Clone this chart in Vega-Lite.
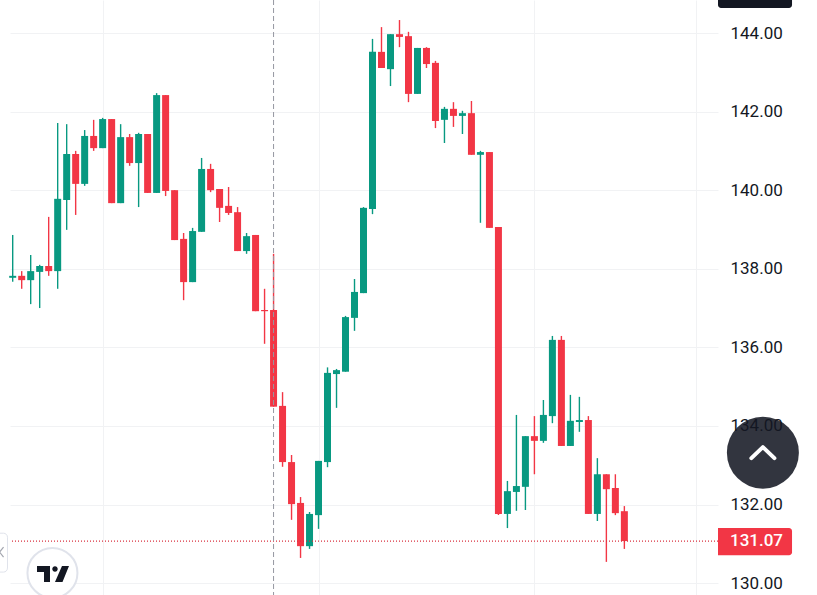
{
  "$schema": "https://vega.github.io/schema/vega-lite/v6.json",
  "width": 708,
  "height": 595,
  "autosize": "none",
  "padding": {"left": 10, "top": 0, "right": 99, "bottom": 0},
  "background": "#ffffff",
  "config": {"view": {"stroke": null}, "font": "Roboto"},
  "data": {"values": [
    {"t":0,"open":137.77,"high":138.86,"low":137.67,"close":137.82,"dir":"up"},
    {"t":1,"open":137.82,"high":137.94,"low":137.49,"close":137.71,"dir":"down"},
    {"t":2,"open":137.71,"high":138.35,"low":137.10,"close":137.94,"dir":"up"},
    {"t":3,"open":137.92,"high":138.10,"low":137.00,"close":138.07,"dir":"up"},
    {"t":4,"open":138.07,"high":139.32,"low":137.82,"close":137.94,"dir":"down"},
    {"t":5,"open":137.94,"high":141.71,"low":137.49,"close":139.78,"dir":"up"},
    {"t":6,"open":139.75,"high":141.68,"low":138.99,"close":140.92,"dir":"up"},
    {"t":7,"open":140.92,"high":141.00,"low":139.37,"close":140.16,"dir":"down"},
    {"t":8,"open":140.16,"high":141.53,"low":140.11,"close":141.38,"dir":"up"},
    {"t":9,"open":141.38,"high":141.79,"low":141.00,"close":141.07,"dir":"down"},
    {"t":10,"open":141.07,"high":141.84,"low":141.07,"close":141.81,"dir":"up"},
    {"t":11,"open":141.81,"high":141.81,"low":139.67,"close":139.67,"dir":"down"},
    {"t":12,"open":139.67,"high":141.68,"low":139.67,"close":141.35,"dir":"up"},
    {"t":13,"open":141.35,"high":141.43,"low":140.62,"close":140.69,"dir":"down"},
    {"t":14,"open":140.69,"high":141.46,"low":139.57,"close":141.43,"dir":"up"},
    {"t":15,"open":141.43,"high":141.43,"low":139.93,"close":139.93,"dir":"down"},
    {"t":16,"open":139.93,"high":142.47,"low":139.93,"close":142.42,"dir":"up"},
    {"t":17,"open":142.42,"high":142.42,"low":139.85,"close":139.98,"dir":"down"},
    {"t":18,"open":140.00,"high":140.00,"low":138.73,"close":138.73,"dir":"down"},
    {"t":19,"open":138.76,"high":138.91,"low":137.20,"close":137.66,"dir":"down"},
    {"t":20,"open":137.66,"high":139.04,"low":137.66,"close":138.96,"dir":"up"},
    {"t":21,"open":138.94,"high":140.82,"low":138.94,"close":140.54,"dir":"up"},
    {"t":22,"open":140.54,"high":140.67,"low":139.95,"close":140.00,"dir":"down"},
    {"t":23,"open":140.03,"high":140.03,"low":139.19,"close":139.55,"dir":"down"},
    {"t":24,"open":139.60,"high":140.08,"low":139.37,"close":139.42,"dir":"down"},
    {"t":25,"open":139.44,"high":139.57,"low":138.45,"close":138.45,"dir":"down"},
    {"t":26,"open":138.45,"high":138.91,"low":138.38,"close":138.83,"dir":"up"},
    {"t":27,"open":138.86,"high":138.86,"low":136.92,"close":136.92,"dir":"down"},
    {"t":28,"open":136.95,"high":137.49,"low":136.09,"close":136.92,"dir":"down"},
    {"t":29,"open":136.95,"high":138.38,"low":134.49,"close":134.49,"dir":"down"},
    {"t":30,"open":134.51,"high":134.86,"low":132.96,"close":133.08,"dir":"down"},
    {"t":31,"open":133.08,"high":133.26,"low":131.61,"close":132.01,"dir":"down"},
    {"t":32,"open":132.04,"high":132.19,"low":130.64,"close":130.94,"dir":"down"},
    {"t":33,"open":130.94,"high":131.81,"low":130.87,"close":131.76,"dir":"up"},
    {"t":34,"open":131.73,"high":133.11,"low":131.38,"close":133.11,"dir":"up"},
    {"t":35,"open":133.08,"high":135.49,"low":132.95,"close":135.35,"dir":"up"},
    {"t":36,"open":135.32,"high":135.45,"low":134.46,"close":135.42,"dir":"up"},
    {"t":37,"open":135.38,"high":136.80,"low":135.38,"close":136.77,"dir":"up"},
    {"t":38,"open":136.75,"high":137.74,"low":136.42,"close":137.41,"dir":"up"},
    {"t":39,"open":137.38,"high":139.57,"low":137.38,"close":139.55,"dir":"up"},
    {"t":40,"open":139.52,"high":143.85,"low":139.39,"close":143.52,"dir":"up"},
    {"t":41,"open":143.52,"high":144.15,"low":143.11,"close":143.11,"dir":"down"},
    {"t":42,"open":143.08,"high":143.97,"low":142.65,"close":143.97,"dir":"up"},
    {"t":43,"open":143.97,"high":144.33,"low":143.64,"close":143.90,"dir":"down"},
    {"t":44,"open":143.92,"high":144.03,"low":142.24,"close":142.45,"dir":"down"},
    {"t":45,"open":142.45,"high":143.62,"low":142.45,"close":143.62,"dir":"up"},
    {"t":46,"open":143.62,"high":143.64,"low":143.11,"close":143.21,"dir":"down"},
    {"t":47,"open":143.24,"high":143.29,"low":141.58,"close":141.76,"dir":"down"},
    {"t":48,"open":141.79,"high":142.12,"low":141.20,"close":142.07,"dir":"up"},
    {"t":49,"open":142.07,"high":142.24,"low":141.61,"close":141.89,"dir":"down"},
    {"t":50,"open":141.89,"high":142.02,"low":141.43,"close":141.96,"dir":"up"},
    {"t":51,"open":141.96,"high":142.27,"low":140.90,"close":140.90,"dir":"down"},
    {"t":52,"open":140.90,"high":141.00,"low":139.17,"close":140.97,"dir":"up"},
    {"t":53,"open":140.97,"high":140.97,"low":139.04,"close":139.04,"dir":"down"},
    {"t":54,"open":139.06,"high":139.06,"low":131.73,"close":131.76,"dir":"down"},
    {"t":55,"open":131.76,"high":132.60,"low":131.40,"close":132.34,"dir":"up"},
    {"t":56,"open":132.32,"high":134.28,"low":131.84,"close":132.47,"dir":"up"},
    {"t":57,"open":132.45,"high":133.74,"low":131.86,"close":133.74,"dir":"up"},
    {"t":58,"open":133.74,"high":134.25,"low":132.77,"close":133.62,"dir":"down"},
    {"t":59,"open":133.62,"high":134.66,"low":133.57,"close":134.28,"dir":"up"},
    {"t":60,"open":134.25,"high":136.29,"low":134.07,"close":136.19,"dir":"up"},
    {"t":61,"open":136.19,"high":136.29,"low":133.49,"close":133.49,"dir":"down"},
    {"t":62,"open":133.49,"high":134.79,"low":133.49,"close":134.13,"dir":"up"},
    {"t":63,"open":134.10,"high":134.74,"low":133.85,"close":134.15,"dir":"up"},
    {"t":64,"open":134.15,"high":134.25,"low":131.76,"close":131.76,"dir":"down"},
    {"t":65,"open":131.76,"high":133.18,"low":131.58,"close":132.77,"dir":"up"},
    {"t":66,"open":132.77,"high":132.77,"low":130.54,"close":132.39,"dir":"down"},
    {"t":67,"open":132.42,"high":132.77,"low":131.73,"close":131.78,"dir":"down"},
    {"t":68,"open":131.83,"high":131.96,"low":130.87,"close":131.07,"dir":"down"}
  ]},
  "encoding": {
    "x": {
      "field": "t",
      "type": "quantitative",
      "scale": {"domain": [-0.3, 78.41], "nice": false, "zero": false, "padding": 0},
      "axis": {
        "title": null,
        "labels": false,
        "ticks": false,
        "domain": false,
        "grid": true,
        "gridColor": "#f1f2f4",
        "values": [10, 34, 58, 76]
      }
    },
    "y": {
      "field": "low",
      "type": "quantitative",
      "scale": {"domain": [129.697, 144.84], "nice": false, "zero": false},
      "axis": {
        "title": null,
        "orient": "right",
        "domain": false,
        "ticks": false,
        "grid": true,
        "gridColor": "#f1f2f4",
        "values": [130, 132, 134, 136, 138, 140, 142, 144],
        "format": ".2f",
        "labelFont": "Roboto",
        "labelFontSize": 17,
        "labelColor": "#131722",
        "labelAlign": "left",
        "labelPadding": 12
      }
    }
  },
  "layer": [
    {
      "mark": {"type": "rule", "strokeWidth": 1.4},
      "encoding": {
        "y2": {"field": "high"},
        "color": {
          "field": "dir",
          "type": "nominal",
          "scale": {"domain": ["up", "down"], "range": ["#089981", "#f23645"]},
          "legend": null
        }
      }
    },
    {
      "mark": {"type": "bar", "width": 7, "orient": "vertical"},
      "encoding": {
        "y": {"field": "open", "type": "quantitative"},
        "y2": {"field": "close"},
        "color": {"field": "dir", "type": "nominal", "legend": null}
      }
    },
    {
      "data": {"values": [{"low": 131.07}]},
      "mark": {"type": "rule", "color": "#d9303f", "strokeWidth": 1.2, "strokeDash": [1, 2]},
      "encoding": {"x": null}
    },
    {
      "data": {"values": [{"t": 29}]},
      "mark": {"type": "rule", "color": "#9598a1", "strokeWidth": 1, "strokeDash": [5, 3]},
      "encoding": {"y": null}
    },
    {
      "data": {"values": [{"t": 78.41, "t2": 86.64, "low": 131.4, "high": 130.71}]},
      "mark": {"type": "rect", "clip": false, "color": "#f23645", "cornerRadiusTopRight": 3, "cornerRadiusBottomRight": 3},
      "encoding": {"x2": {"field": "t2"}, "y2": {"field": "high"}}
    },
    {
      "data": {"values": [{"t": 79.74, "low": 131.07, "label": "131.07"}]},
      "mark": {"type": "text", "clip": false, "color": "#ffffff", "font": "Roboto", "fontSize": 17, "align": "left", "baseline": "middle", "fontWeight": 500},
      "encoding": {"text": {"field": "label"}}
    },
    {
      "data": {"values": [{"t": 78.41, "t2": 86.64, "low": 144.636, "high": 145.1}]},
      "mark": {"type": "rect", "clip": false, "color": "#131722", "cornerRadiusBottomRight": 3, "cornerRadiusBottomLeft": 3},
      "encoding": {"x2": {"field": "t2"}, "y2": {"field": "high"}}
    },
    {
      "data": {"values": [{"t": 83.4, "low": 133.32}]},
      "mark": {"type": "point", "clip": false, "shape": "circle", "filled": true, "size": 5184, "color": "#131722", "opacity": 0.87}
    },
    {
      "data": {"values": [{"t": 83.4, "low": 133.32}]},
      "mark": {"type": "point", "clip": false, "shape": "M-0.5,0.24L0,-0.24L0.5,0.24", "filled": false, "size": 2116, "stroke": "#ffffff", "strokeWidth": 4, "strokeCap": "round", "strokeJoin": "round", "opacity": 1}
    },
    {
      "data": {"values": [{"t": 4.42, "low": 130.26}]},
      "mark": {"type": "point", "clip": false, "shape": "circle", "filled": true, "size": 2500, "fill": "#ffffff", "stroke": "#e0e3eb", "strokeWidth": 2, "opacity": 1}
    },
    {
      "data": {"values": [{"t": 4.48, "low": 130.23}]},
      "mark": {"type": "point", "clip": false, "shape": "M-0.5,-0.25L-0.094,-0.25L-0.094,0.25L-0.281,0.25L-0.281,-0.0625L-0.5,-0.0625ZM0.281,-0.25L0.5,-0.25L0.297,0.25L0.0625,0.25ZM0.0625,-0.241A0.085,0.085 0 1 1 0.0625,-0.071A0.085,0.085 0 1 1 0.0625,-0.241Z", "filled": true, "size": 4096, "fill": "#131722", "opacity": 1}
    },
    {
      "data": {"values": [{"t": -1.97, "t2": -0.58, "low": 131.27, "high": 130.28}]},
      "mark": {"type": "rect", "clip": false, "fill": "#ffffff", "stroke": "#e0e3eb", "strokeWidth": 1, "cornerRadius": 4},
      "encoding": {"x2": {"field": "t2"}, "y2": {"field": "high"}}
    },
    {
      "data": {"values": [{"t": -1.24, "low": 130.79}]},
      "mark": {"type": "point", "clip": false, "shape": "M0.2,-0.5L-0.2,0L0.2,0.5", "filled": false, "size": 400, "stroke": "#a3a6af", "strokeWidth": 1.2, "opacity": 1}
    }
  ]
}
